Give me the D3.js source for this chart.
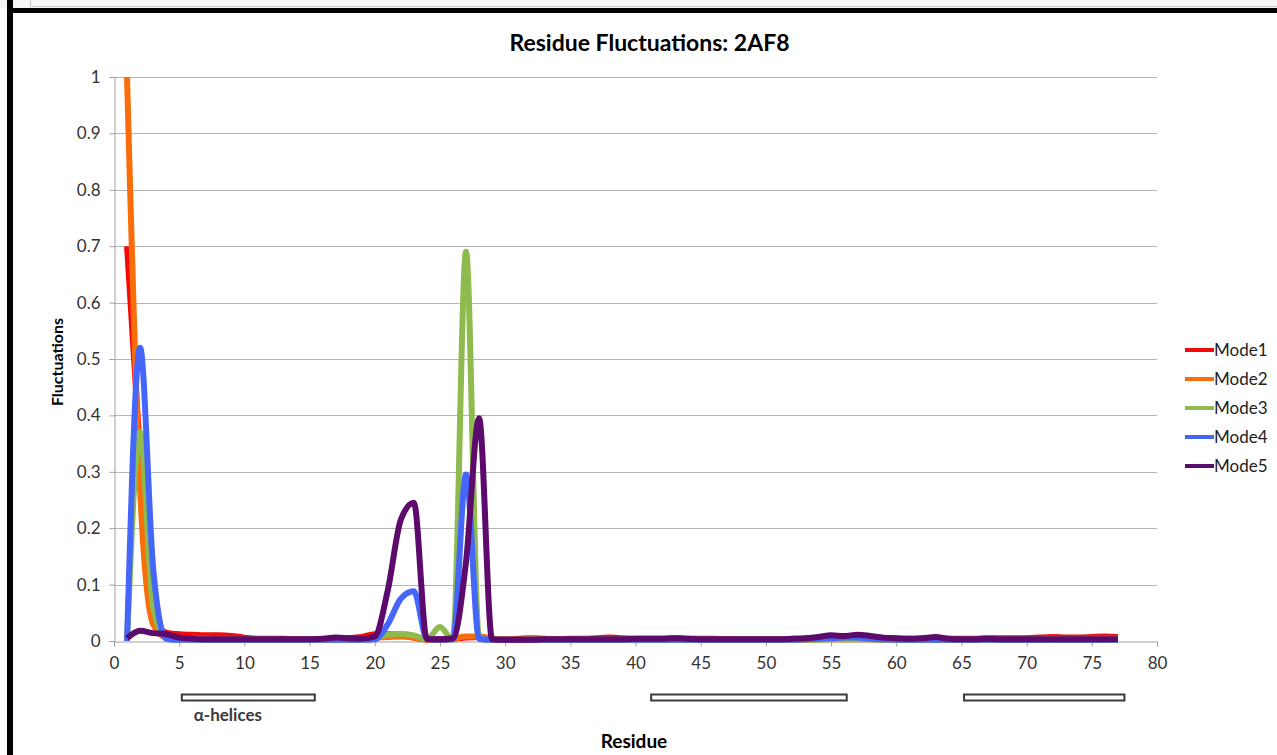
<!DOCTYPE html>
<html>
<head>
<meta charset="utf-8">
<script src="https://cdn.jsdelivr.net/npm/d3@7"></script>
<style>
  body { margin: 0; background: #fff; }
  svg { display: block; font-family: Lato, "Open Sans", sans-serif; }
</style>
</head>
<body>
<div id="container"></div>
<script>
/* CONSTANTS AND GLOBALS */
const width = 1277,
  height = 755,
  plot = { left: 114, right: 1157, top: 77, bottom: 641 };

/* DATA */
// residue numbers 1..77
const residues = d3.range(1, 78);

const mode1 = [
  0.70, 0.33, 0.04, 0.015, 0.012, 0.011, 0.010, 0.010, 0.009, 0.006,
  0.004, 0.004, 0.004, 0.003, 0.003, 0.003, 0.004, 0.005, 0.007, 0.012,
  0.012, 0.010, 0.006, 0.003, 0.003, 0.004, 0.006, 0.007, 0.004, 0.003,
  0.004, 0.005, 0.004, 0.003, 0.004, 0.004, 0.005, 0.006, 0.005, 0.004,
  0.004, 0.004, 0.005, 0.004, 0.004, 0.004, 0.003, 0.003, 0.003, 0.003,
  0.003, 0.003, 0.003, 0.004, 0.005, 0.005, 0.005, 0.005, 0.004, 0.004,
  0.004, 0.004, 0.005, 0.004, 0.004, 0.004, 0.005, 0.005, 0.005, 0.005,
  0.006, 0.007, 0.006, 0.006, 0.007, 0.008, 0.007
];
const mode2 = [
  1.00, 0.27, 0.03, 0.006, 0.004, 0.004, 0.004, 0.003, 0.003, 0.003,
  0.003, 0.003, 0.002, 0.002, 0.002, 0.002, 0.003, 0.003, 0.004, 0.006,
  0.007, 0.008, 0.006, 0.002, 0.002, 0.004, 0.008, 0.008, 0.004, 0.002,
  0.002, 0.003, 0.003, 0.002, 0.002, 0.003, 0.003, 0.003, 0.003, 0.002,
  0.002, 0.002, 0.003, 0.002, 0.002, 0.002, 0.002, 0.002, 0.002, 0.002,
  0.002, 0.002, 0.002, 0.003, 0.003, 0.003, 0.003, 0.003, 0.002, 0.002,
  0.002, 0.002, 0.003, 0.002, 0.002, 0.002, 0.003, 0.003, 0.003, 0.003,
  0.003, 0.004, 0.003, 0.003, 0.004, 0.004, 0.004
];
const mode3 = [
  0.00, 0.37, 0.06, 0.006, 0.003, 0.003, 0.002, 0.002, 0.002, 0.002,
  0.002, 0.002, 0.002, 0.002, 0.002, 0.002, 0.002, 0.002, 0.003, 0.006,
  0.011, 0.013, 0.010, 0.003, 0.025, 0.002, 0.69, 0.004, 0.002, 0.002,
  0.002, 0.002, 0.002, 0.002, 0.002, 0.002, 0.002, 0.002, 0.002, 0.002,
  0.002, 0.002, 0.002, 0.002, 0.002, 0.002, 0.002, 0.002, 0.002, 0.002,
  0.002, 0.002, 0.002, 0.002, 0.003, 0.003, 0.003, 0.003, 0.002, 0.002,
  0.002, 0.002, 0.002, 0.002, 0.002, 0.002, 0.002, 0.002, 0.002, 0.002,
  0.002, 0.002, 0.002, 0.002, 0.002, 0.002, 0.002
];
const mode4 = [
  0.00, 0.52, 0.13, 0.004, 0.002, 0.002, 0.002, 0.002, 0.002, 0.002,
  0.002, 0.002, 0.002, 0.002, 0.002, 0.002, 0.002, 0.002, 0.002, 0.003,
  0.03, 0.075, 0.088, 0.004, 0.002, 0.003, 0.295, 0.004, 0.002, 0.002,
  0.002, 0.002, 0.002, 0.002, 0.002, 0.002, 0.002, 0.002, 0.002, 0.002,
  0.002, 0.002, 0.002, 0.002, 0.002, 0.002, 0.002, 0.002, 0.002, 0.002,
  0.002, 0.002, 0.003, 0.004, 0.005, 0.006, 0.006, 0.004, 0.003, 0.002,
  0.002, 0.002, 0.002, 0.002, 0.002, 0.002, 0.002, 0.002, 0.002, 0.002,
  0.002, 0.002, 0.002, 0.002, 0.002, 0.002, 0.002
];
const mode5 = [
  0.005, 0.018, 0.014, 0.012, 0.006, 0.004, 0.003, 0.003, 0.003, 0.003,
  0.003, 0.003, 0.003, 0.003, 0.003, 0.004, 0.006, 0.005, 0.004, 0.008,
  0.09, 0.215, 0.245, 0.003, 0.003, 0.005, 0.14, 0.395, 0.003, 0.002,
  0.002, 0.002, 0.003, 0.003, 0.003, 0.003, 0.003, 0.003, 0.003, 0.004,
  0.004, 0.004, 0.005, 0.004, 0.003, 0.003, 0.003, 0.003, 0.003, 0.003,
  0.003, 0.004, 0.005, 0.007, 0.010, 0.009, 0.011, 0.009, 0.006, 0.005,
  0.004, 0.005, 0.007, 0.004, 0.003, 0.003, 0.004, 0.003, 0.003, 0.003,
  0.003, 0.003, 0.003, 0.003, 0.003, 0.003, 0.003
];

const seriesNames = ["Mode1", "Mode2", "Mode3", "Mode4", "Mode5"];
const seriesValues = [mode1, mode2, mode3, mode4, mode5];
const seriesColors = ["#f50a0a", "#fa6e0a", "#8fbb4e", "#4466fb", "#5c0a6c"];

const xTicks = d3.range(0, 81, 5);
const yTicks = [0, 0.1, 0.2, 0.3, 0.4, 0.5, 0.6, 0.7, 0.8, 0.9, 1];
const yTickLabels = ["0", "0.1", "0.2", "0.3", "0.4", "0.5", "0.6", "0.7", "0.8", "0.9", "1"];

// helix segments along the residue axis [start, end]
const helices = [[5.2, 15.4], [41.2, 56.2], [65.2, 77.5]];

/* SCALES */
const xScale = d3.scaleLinear()
  .domain([0, 80])
  .range([plot.left, plot.right]);

const yScale = d3.scaleLinear()
  .domain([0, 1])
  .range([plot.bottom, plot.top]);

const colorScale = d3.scaleOrdinal()
  .domain(seriesNames)
  .range(seriesColors);

/* SVG */
const svg = d3.select("#container").append("svg")
  .attr("width", width)
  .attr("height", height);

// frame bits along the top and left edge
svg.append("rect").attr("x", 0).attr("y", 0).attr("width", width).attr("height", 8).attr("fill", "#f6f6f6");
svg.append("line").attr("x1", 30).attr("x2", width).attr("y1", 6.5).attr("y2", 6.5).attr("stroke", "#c8c8c8");
svg.append("line").attr("x1", 30.5).attr("x2", 30.5).attr("y1", 0).attr("y2", 7).attr("stroke", "#c8c8c8");
svg.append("rect").attr("x", 7).attr("y", 8).attr("width", width - 7).attr("height", 5).attr("fill", "#000");
svg.append("rect").attr("x", 7).attr("y", 0).attr("width", 6).attr("height", height).attr("fill", "#000");

// gridlines
svg.append("g")
  .selectAll("line")
  .data(yTicks.slice(1))
  .join("line")
  .attr("x1", plot.left)
  .attr("x2", plot.right)
  .attr("y1", d => Math.round(yScale(d)) + 0.5)
  .attr("y2", d => Math.round(yScale(d)) + 0.5)
  .attr("stroke", "#b4b4b4")
  .attr("stroke-width", 1);

/* AXES */
const xAxis = d3.axisBottom(xScale)
  .tickValues(xTicks)
  .tickSize(5)
  .tickPadding(10)
  .tickFormat(d3.format("d"));

const yAxis = d3.axisLeft(yScale)
  .tickValues(yTicks)
  .tickSize(5)
  .tickPadding(9)
  .tickFormat((d, i) => yTickLabels[i]);

const gx = svg.append("g")
  .attr("transform", `translate(0,${plot.bottom + 0.5})`)
  .call(xAxis);

const gy = svg.append("g")
  .attr("transform", `translate(${plot.left + 0.5},0)`)
  .call(yAxis);

[gx, gy].forEach(g => {
  g.select(".domain").attr("stroke", "#a0a0a0");
  g.selectAll(".tick line").attr("stroke", "#a0a0a0");
  g.selectAll(".tick text")
    .attr("fill", "#333")
    .style("font-size", "17px")
    .style("font-family", "Lato, sans-serif");
});

/* LINES */
const line = d3.line()
  .x((d, i) => xScale(residues[i]))
  .y(d => yScale(d))
  .curve(d3.curveMonotoneX);

svg.append("g")
  .selectAll("path")
  .data(seriesValues)
  .join("path")
  .attr("d", d => line(d))
  .attr("fill", "none")
  .attr("stroke", (d, i) => colorScale(seriesNames[i]))
  .attr("stroke-width", 6)
  .attr("stroke-linejoin", "round")
  .attr("stroke-linecap", "butt");

/* HELIX BARS */
svg.append("g")
  .selectAll("rect")
  .data(helices)
  .join("rect")
  .attr("x", d => xScale(d[0]))
  .attr("y", 694.5)
  .attr("width", d => xScale(d[1]) - xScale(d[0]))
  .attr("height", 6)
  .attr("fill", "#fff")
  .attr("stroke", "#3a3a3a")
  .attr("stroke-width", 2);

svg.append("text")
  .attr("x", xScale(helices[0][0]) + 12)
  .attr("y", 721)
  .attr("fill", "#3a3a3a")
  .style("font-size", "17px")
  .style("font-weight", "bold")
  .text("α-helices");

/* TITLES */
svg.append("text")
  .attr("x", (plot.left + plot.right) / 2 + 14)
  .attr("y", 51)
  .attr("text-anchor", "middle")
  .style("font-size", "23px")
  .style("font-weight", "bold")
  .text("Residue Fluctuations: 2AF8");

svg.append("text")
  .attr("x", 634)
  .attr("y", 748)
  .attr("text-anchor", "middle")
  .style("font-size", "19px")
  .style("font-weight", "bold")
  .text("Residue");

svg.append("text")
  .attr("transform", "translate(63,362) rotate(-90)")
  .attr("text-anchor", "middle")
  .style("font-size", "16px")
  .style("font-weight", "bold")
  .text("Fluctuations");

/* LEGEND */
const legend = svg.append("g")
  .selectAll("g")
  .data(seriesNames)
  .join("g")
  .attr("transform", (d, i) => `translate(1185,${350 + i * 29})`);

legend.append("line")
  .attr("x1", 0)
  .attr("x2", 29)
  .attr("stroke", d => colorScale(d))
  .attr("stroke-width", 4);

legend.append("text")
  .attr("x", 29)
  .attr("y", 6)
  .attr("fill", "#222")
  .style("font-size", "17px")
  .text(d => d);
</script>
</body>
</html>
